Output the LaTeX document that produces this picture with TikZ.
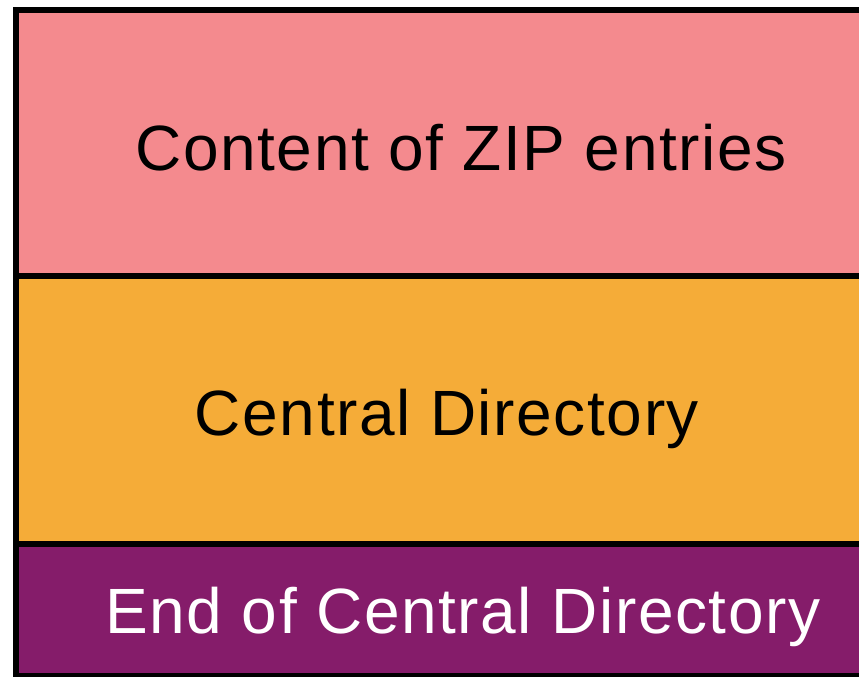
\documentclass[tikz,border=0pt]{standalone}
\usepackage{fontspec}
\usepackage{tikz}
\newfontfamily\zipfont[LetterSpace=2.5]{Liberation Sans}
\definecolor{zippink}{HTML}{F48A8E}
\definecolor{ziporange}{HTML}{F5AC38}
\definecolor{zippurple}{HTML}{851C6A}

\begin{document}
\begin{tikzpicture}
		[x=1pt,y=-1pt,
		 blk/.style= {draw=black,line width=5.5pt},
		 lbl/.style= {anchor=base,inner sep=0pt,font={\zipfont\fontsize{64}{64}\selectfont}}]

		\useasboundingbox (0,0) rectangle (859,677);
		\clip (0,0) rectangle (859,677);

		% the three parts of the file
		\draw[blk,fill=zippink]   (16,10)  rectangle (910,276);
		\draw[blk,fill=ziporange] (16,276) rectangle (910,544);
		\draw[blk,fill=zippurple] (16,544) rectangle (910,676);

		\node[lbl] (entries) at (461,170) {Content of ZIP entries};
		\node[lbl] (central) at (447,435) {Central Directory};
		\node[lbl,text=white] (eocd) at (463,633) {End of Central Directory};

	\end{tikzpicture}
\end{document}
